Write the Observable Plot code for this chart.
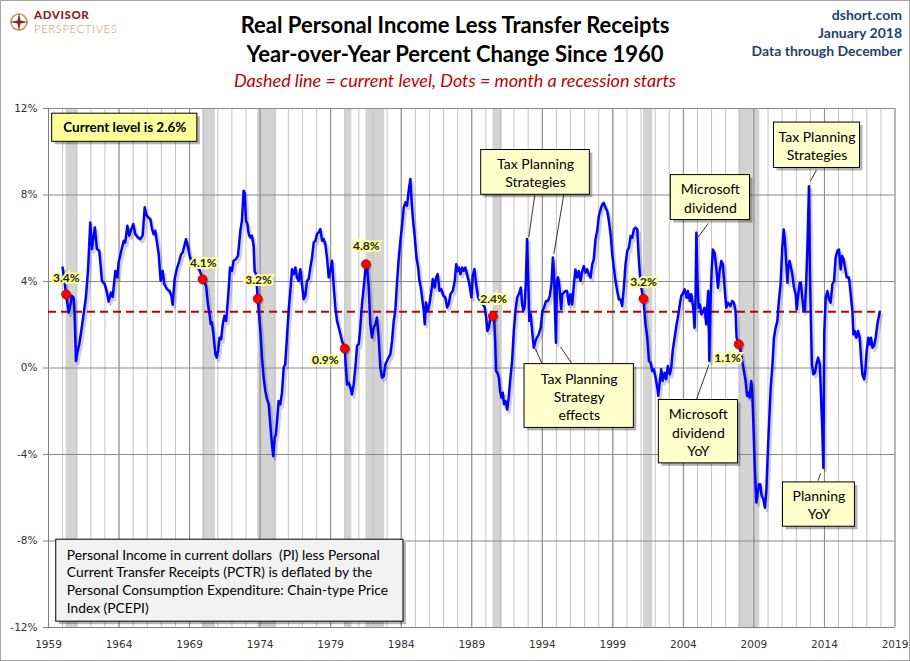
<!DOCTYPE html>
<html><head><meta charset="utf-8">
<script src="https://cdn.jsdelivr.net/npm/d3@7"></script>
<script src="https://cdn.jsdelivr.net/npm/@observablehq/plot@0.6"></script>
<style>
html,body{margin:0;padding:0;background:#fff;}
#chart{position:relative;width:910px;height:661px;overflow:hidden;background:#fff;}
#frame{position:absolute;left:0;top:0;width:908px;height:659px;border:1px solid #a6a6a6;pointer-events:none;}
.h{position:absolute;white-space:nowrap;line-height:1;}
.t{left:455px;transform:translateX(-50%);font-family:Lato;font-weight:bold;font-size:22px;color:#000;}
.sub{left:455px;transform:translateX(-50%);font-family:Lato;font-style:italic;font-size:18px;color:#c00000;}
.r{right:8px;text-align:right;font-family:Lato;font-weight:bold;font-size:14px;color:#1f3f73;}
#logo{left:9px;top:9px;width:130px;height:28px;}
.adv{position:absolute;left:25px;top:0px;font-family:Lato;font-weight:900;font-size:11.5px;line-height:1;color:#8c2424;letter-spacing:0.6px;}
.per{position:absolute;left:25px;top:14px;font-family:Lato;font-weight:300;font-size:11.5px;line-height:1;color:#c29a5b;letter-spacing:0.5px;}
</style></head><body>
<div id="chart">
  <div id="plot"></div>
  <div id="logo" class="h">
    <svg width="20" height="20" viewBox="0 0 20 20" style="position:absolute;left:0;top:3px">
      <circle cx="10" cy="10" r="8" fill="none" stroke="#c29a5b" stroke-width="1.6"/>
      <polygon points="10,1 11.5,8.5 19,10 11.5,11.5 10,19 8.5,11.5 1,10 8.5,8.5" fill="#8c2424"/>
    </svg>
    <div class="adv">ADVISOR</div>
    <div class="per">PERSPECTIVES</div>
  </div>
  <div class="h t" style="top:14px">Real Personal Income Less Transfer Receipts</div>
  <div class="h t" style="top:43px">Year-over-Year Percent Change Since 1960</div>
  <div class="h sub" style="top:70.5px">Dashed line = current level, Dots = month a recession starts</div>
  <div class="h r" style="top:7.5px">dshort.com</div>
  <div class="h r" style="top:25.5px">January 2018</div>
  <div class="h r" style="top:43.5px">Data through December</div>
  <div id="frame"></div>
</div>
<script>
// ---- data ----
const dates = [
1960.00,1960.25,1960.43,1960.54,1960.66,1960.78,1960.85,1960.95,1961.04,1961.18,1961.32,1961.49,1961.65,1961.80,1961.96,
1962.08,1962.15,1962.29,1962.43,1962.60,1962.79,1962.98,1963.14,1963.26,1963.43,1963.55,1963.74,1963.88,1963.97,
1964.16,1964.33,1964.44,1964.59,1964.73,1964.87,1965.01,1965.15,1965.34,1965.51,1965.67,1965.82,1965.91,
1966.05,1966.22,1966.34,1966.45,1966.57,1966.69,1966.81,1966.95,1967.09,1967.21,1967.40,1967.57,1967.71,1967.80,1967.94,
1968.10,1968.25,1968.40,1968.51,1968.75,1968.89,1969.03,1969.17,1969.36,1969.53,1969.69,1969.92,
1970.00,1970.17,1970.30,1970.40,1970.50,1970.59,1970.69,1970.83,1970.92,1971.02,1971.12,1971.24,1971.35,1971.47,1971.59,1971.73,1971.87,
1972.00,1972.12,1972.29,1972.43,1972.60,1972.71,1972.83,1972.90,1973.00,1973.10,1973.19,1973.30,1973.42,1973.54,1973.61,1973.71,1973.83,
1973.90,1974.02,1974.13,1974.25,1974.37,1974.49,1974.61,1974.72,1974.84,1974.93,1975.03,1975.12,1975.22,1975.31,1975.43,1975.55,1975.67,1975.78,1975.90,
1976.02,1976.14,1976.26,1976.38,1976.50,1976.61,1976.73,1976.85,1976.97,1977.08,1977.20,1977.32,1977.44,1977.56,1977.68,1977.80,1977.92,
1978.03,1978.15,1978.27,1978.39,1978.51,1978.62,1978.74,1978.86,1978.98,1979.10,1979.22,1979.33,1979.45,1979.57,1979.69,1979.80,1980.00,
1980.06,1980.16,1980.28,1980.40,1980.51,1980.63,1980.75,1980.87,1980.99,1981.10,1981.22,1981.34,1981.50,1981.58,1981.70,1981.81,1981.93,
1982.05,1982.17,1982.28,1982.40,1982.52,1982.64,1982.76,1982.88,1982.99,1983.11,1983.23,1983.35,1983.47,1983.58,1983.71,1983.83,1983.94,
1984.06,1984.18,1984.30,1984.41,1984.53,1984.65,1984.72,1984.82,1984.96,1985.08,1985.20,1985.29,1985.39,1985.48,1985.60,1985.67,1985.76,1985.88,
1986.00,1986.14,1986.24,1986.38,1986.47,1986.59,1986.71,1986.85,1986.99,1987.13,1987.25,1987.37,1987.49,1987.66,1987.80,1987.90,1987.99,
1988.09,1988.20,1988.32,1988.43,1988.55,1988.69,1988.83,1988.98,1989.07,1989.19,1989.31,1989.45,1989.61,1989.78,1989.92,
1990.02,1990.11,1990.21,1990.32,1990.50,1990.58,1990.66,1990.72,1990.82,1990.92,1991.01,1991.10,1991.20,1991.29,1991.39,1991.51,1991.62,1991.74,1991.86,1991.98,
1992.10,1992.22,1992.33,1992.42,1992.48,1992.57,1992.65,1992.74,1992.83,1992.92,1993.00,1993.08,1993.18,1993.30,1993.40,1993.52,1993.63,1993.75,1993.89,
1994.01,1994.13,1994.27,1994.41,1994.53,1994.65,1994.75,1994.83,1994.90,1994.97,1995.04,1995.12,1995.22,1995.34,1995.41,1995.53,1995.66,1995.76,1995.88,
1996.00,1996.12,1996.24,1996.35,1996.47,1996.59,1996.71,1996.83,1996.94,1997.06,1997.18,1997.30,1997.42,1997.54,1997.65,1997.77,1997.89,
1998.01,1998.13,1998.25,1998.36,1998.48,1998.60,1998.72,1998.84,1998.96,1999.07,1999.19,1999.31,1999.43,1999.55,1999.66,1999.78,1999.90,
2000.02,2000.14,2000.26,2000.37,2000.49,2000.61,2000.73,2000.85,2000.97,2001.17,2001.22,2001.32,2001.44,2001.56,2001.68,2001.79,2001.91,
2002.03,2002.15,2002.22,2002.31,2002.43,2002.53,2002.67,2002.78,2002.90,2003.04,2003.14,2003.24,2003.38,2003.52,2003.61,2003.75,2003.85,2003.99,
2004.09,2004.23,2004.32,2004.46,2004.56,2004.70,2004.79,2004.86,2004.92,2005.00,2005.08,2005.17,2005.27,2005.41,2005.50,2005.62,2005.69,2005.76,2005.84,2005.92,
2006.00,2006.09,2006.21,2006.33,2006.45,2006.57,2006.69,2006.80,2006.92,2007.04,2007.16,2007.34,2007.46,2007.58,2007.70,2007.77,2007.92,
2008.06,2008.17,2008.29,2008.41,2008.51,2008.60,2008.70,2008.81,2008.88,2008.98,2009.07,2009.17,2009.26,2009.36,2009.45,2009.55,2009.67,2009.78,2009.88,2009.97,
2010.07,2010.19,2010.30,2010.42,2010.54,2010.66,2010.77,2010.89,2011.01,2011.11,2011.20,2011.30,2011.37,2011.44,2011.53,2011.63,2011.72,2011.84,2011.96,
2012.03,2012.12,2012.24,2012.33,2012.43,2012.52,2012.62,2012.71,2012.81,2012.90,2012.97,2013.04,2013.11,2013.21,2013.33,2013.43,2013.55,2013.67,2013.76,2013.85,2013.92,2013.99,
2014.09,2014.21,2014.32,2014.44,2014.56,2014.68,2014.79,2014.91,2015.03,2015.15,2015.25,2015.36,2015.46,2015.58,2015.74,2015.86,2015.98,
2016.05,2016.14,2016.26,2016.38,2016.50,2016.59,2016.69,2016.81,2016.90,2016.99,2017.11,2017.21,2017.30,2017.40,2017.52,2017.63,2017.75,2017.92
];
const values = [
4.65,3.40,2.56,2.87,3.34,3.26,2.49,0.32,0.71,1.10,1.70,2.50,3.26,4.50,6.73,
5.50,5.88,6.50,5.50,5.42,4.03,3.88,3.49,3.07,3.49,3.29,4.49,4.19,4.88,
5.42,5.88,5.80,6.58,6.12,6.42,6.66,6.19,6.04,5.96,6.12,7.43,7.12,
6.97,6.89,6.42,6.19,6.35,5.80,5.27,4.03,4.49,3.88,3.64,3.57,3.34,2.92,4.11,
4.60,4.90,5.27,5.34,5.96,5.58,5.11,4.96,4.80,4.65,4.57,4.10,
4.03,3.80,2.95,2.56,2.02,2.10,1.56,0.63,0.48,0.79,1.40,1.33,2.02,2.41,2.18,3.26,4.65,
4.49,4.96,5.03,5.19,6.35,6.81,8.20,8.12,6.81,6.66,6.19,6.04,6.12,5.65,4.49,4.34,3.20,
2.64,1.71,0.48,-0.45,-1.07,-1.45,-1.68,-2.61,-3.54,-4.08,-3.23,-3.07,-2.30,-1.53,-1.68,-1.14,0.02,0.17,1.41,
2.64,3.57,4.57,4.34,4.65,4.19,4.03,4.57,3.88,3.18,3.34,4.03,4.11,4.65,5.11,5.81,5.88,
6.19,6.27,6.42,5.88,5.96,5.73,5.11,4.19,4.49,4.96,3.72,2.80,2.18,1.87,1.56,1.25,0.90,
0.17,-0.76,-0.68,-0.91,-1.22,-0.76,0.02,1.02,1.10,1.87,2.95,3.72,4.80,4.73,3.72,2.02,1.41,
1.87,2.02,2.33,1.41,0.02,-0.45,-0.37,0.17,0.32,0.48,0.63,1.25,2.18,2.64,4.03,5.11,5.88,
6.58,7.43,7.66,7.50,8.20,8.74,7.89,6.97,6.04,5.11,4.65,4.03,3.72,3.26,2.64,2.02,3.03,2.64,
2.95,3.57,4.11,3.72,4.19,4.34,3.57,3.64,3.34,3.26,2.80,2.95,3.41,3.57,4.03,4.80,4.49,
4.65,4.34,4.65,4.49,4.65,4.26,3.88,3.26,4.26,4.57,3.88,3.26,3.10,2.95,2.80,
2.33,1.71,1.87,2.30,2.40,2.33,1.25,-0.14,-0.22,-0.45,-1.07,-1.37,-1.14,-1.68,-1.53,-1.92,-1.37,-0.45,0.32,1.71,
2.64,3.26,3.41,3.57,3.72,2.95,2.64,2.80,3.88,5.96,4.19,2.18,2.49,1.56,0.94,1.25,1.41,1.56,1.87,
2.64,2.80,3.10,3.10,3.34,3.88,5.11,4.49,2.64,1.17,4.03,4.19,3.72,2.72,3.41,3.49,3.57,3.56,2.94,
3.41,2.94,3.87,4.56,4.18,4.48,4.02,4.48,4.71,4.41,4.56,4.33,4.18,4.79,5.02,5.95,6.33,
7.03,7.33,7.57,7.64,7.41,7.26,6.80,6.18,5.25,4.64,4.02,3.56,3.17,3.17,2.87,3.71,4.79,
5.41,5.56,6.10,6.02,6.41,6.49,6.41,4.95,3.87,3.20,2.79,2.02,1.40,0.32,0.25,-0.14,-0.06,
-0.45,-0.91,-1.29,-0.75,-0.06,-0.60,-0.22,-0.52,0.09,-0.29,0.02,0.79,1.40,2.02,2.33,2.94,3.33,3.48,
3.64,3.25,3.56,3.10,3.41,2.79,1.86,3.10,6.26,4.02,2.79,2.94,2.48,2.63,2.79,2.02,2.79,3.56,0.32,2.94,
4.48,5.48,5.33,4.64,3.71,4.48,4.95,4.79,3.71,2.79,3.02,2.87,3.10,3.02,2.63,1.40,1.10,
0.79,0.32,-0.14,-0.60,-1.29,-1.14,-1.37,-0.60,-1.06,-2.90,-4.76,-6.22,-5.84,-5.37,-5.37,-5.91,-6.07,-6.46,-5.68,-4.14,
-2.60,-0.91,0.02,1.40,1.86,2.17,3.10,3.87,5.56,6.41,5.87,4.79,3.94,4.64,4.95,4.64,4.33,3.71,3.41,
2.71,3.25,3.94,3.94,3.25,2.63,2.71,4.02,6.02,8.41,4.48,2.17,0.17,-0.29,-0.22,0.17,0.48,0.17,-1.37,-2.91,-4.61,1.71,
3.25,3.56,3.17,3.02,3.87,4.02,5.10,5.41,5.48,4.56,5.18,5.02,4.64,4.18,4.18,3.41,2.63,
1.56,1.71,1.40,1.71,1.40,0.48,-0.29,-0.52,-0.14,0.79,1.40,1.09,1.40,0.94,1.02,1.40,2.02,2.60
];
const currentLevel = 2.6;
const recessionStarts = [1960.25,1969.92,1973.83,1980.00,1981.50,1990.50,2001.17,2007.92];
const recessionEnds   = [1961.08,1970.83,1975.17,1980.50,1982.83,1991.17,2001.83,2009.42];
const recessionStartValues = [3.4,4.1,3.2,0.9,4.8,2.4,3.2,1.1];
const xTicks = d3.range(1959, 2020, 5);
const xMinor = d3.range(1959, 2020, 1);
const yTicks = [-12,-8,-4,0,4,8,12];
const xDomain = [1959, 2019];
const yDomain = [-12, 12];

// ---- annotations (placement in data units) ----
const dotLabelPos = [
  [1960.26,4.16],[1969.97,4.85],[1973.89,4.04],[1978.62,0.38],
  [1981.53,5.62],[1990.54,3.19],[2001.18,3.99],[2007.13,0.44]
];
const noteBoxes = [
  {label:"Tax Planning\nStrategies", x1:1989.67, x2:1997.37, y1:10.08, y2:8.01},
  {label:"Tax Planning\nStrategy\neffects", x1:1992.74, x2:2000.49, y1:0.18, y2:-2.77},
  {label:"Microsoft\ndividend", x1:2003.11, x2:2008.72, y1:8.92, y2:6.84},
  {label:"Microsoft\ndividend\nYoY", x1:2002.26, x2:2007.87, y1:-1.48, y2:-4.41},
  {label:"Tax Planning\nStrategies", x1:2010.42, x2:2016.52, y1:11.35, y2:9.25},
  {label:"Planning\nYoY", x1:2011.06, x2:2016.16, y1:-5.29, y2:-7.34}
];
const leaders = [
  {x1:1993.47,y1:8.01,x2:1993.04,y2:6.04},{x1:1995.52,y1:8.01,x2:1994.82,y2:5.27},
  {x1:1993.52,y1:0.89,x2:1993.99,y2:0.18},{x1:1995.29,y1:0.98,x2:1996.12,y2:0.18},
  {x1:2005.77,y1:6.69,x2:2005.03,y2:6.04},
  {x1:2005.81,y1:0.15,x2:2004.91,y2:-1.48},
  {x1:2013.43,y1:9.15,x2:2013.02,y2:8.66},
  {x1:2013.73,y1:-4.87,x2:2013.54,y2:-5.21}
];
const currentBox = [{label:`Current level is ${currentLevel}%`, x1:1959.26, x2:1969.55, y1:11.76, y2:10.46}];
const infoBox = [{label:"Personal Income in current dollars  (PI) less Personal\nCurrent Transfer Receipts (PCTR) is deflated by the\nPersonal Consumption Expenditure: Chain-type Price\nIndex (PCEPI)", x1:1959.55, x2:1984.16, y1:-7.94, y2:-11.73, tx:1960.3}];

// ---- build tables ----
const series = dates.map((d,i) => ({date:d, value:values[i]}));
const recessions = recessionStarts.map((s,i) => ({start:s, end:recessionEnds[i]}));
const dots = recessionStarts.map((s,i) => ({date:s, value:recessionStartValues[i]}));
const dotLabels = dots.map((d,i) => ({x:dotLabelPos[i][0], y:dotLabelPos[i][1], text:d.value.toFixed(1)+"%"}));
const cx = d => (d.x1+d.x2)/2, cy = d => (d.y1+d.y2)/2;
const F = "Lato";

const chart = Plot.plot({
  width: 910, height: 661,
  marginLeft: 48, marginRight: 15.5, marginTop: 108, marginBottom: 34,
  style: {fontFamily: "DejaVu Sans", fontSize: "10.5px", color: "#333", background: "transparent"},
  x: {type: "linear", domain: xDomain},
  y: {domain: yDomain},
  marks: [
    Plot.rect(recessions, {x1:"start", x2:"end", y1: yDomain[0], y2: yDomain[1], fill:"#d3d3d3"}),
    Plot.gridX(xMinor, {stroke:"#c4c4c4", strokeOpacity:1, strokeWidth:1}),
    Plot.gridX(xTicks, {stroke:"#8a8a8a", strokeOpacity:1, strokeWidth:1}),
    Plot.gridY(yTicks, {stroke:"#8a8a8a", strokeOpacity:1, strokeWidth:1}),
    Plot.ruleX([xDomain[0]], {stroke:"#808080"}),
    Plot.ruleY([yDomain[0]], {stroke:"#808080"}),
    Plot.axisY({ticks: yTicks, tickFormat: d => d + "%", tickSize: 5, tickPadding: 6, stroke:"#808080", label: null}),
    Plot.axisX({ticks: xTicks, tickFormat: d => String(d), tickSize: 0, tickPadding: 13, label: null}),
    Plot.ruleY([currentLevel], {x1: xDomain[0], x2: dates[dates.length-1], stroke:"#c00000", strokeWidth:2, strokeDasharray:"8,5"}),
    Plot.line(series, {x:"date", y:"value", stroke:"#000", strokeOpacity:0.18, strokeWidth:3, dx:2, dy:3, curve:"linear"}),
    Plot.line(series, {x:"date", y:"value", stroke:"#0000ff", strokeWidth:2.5, strokeLinejoin:"round"}),
    Plot.dot(dots, {x:"date", y:"value", r:4.5, fill:"#000", fillOpacity:0.25, dx:1.5, dy:1.5}),
    Plot.dot(dots, {x:"date", y:"value", r:4.5, fill:"#ff0000", stroke:"#b00000", strokeWidth:0.8}),
    Plot.text(dotLabels, {x:"x", y:"y", text:"text", fontFamily:F, fontWeight:"bold", fontSize:12, fill:"#222", stroke:"#ffff99", strokeWidth:4, strokeLinejoin:"miter"}),
    Plot.link(leaders, {x1:"x1", y1:"y1", x2:"x2", y2:"y2", stroke:"#000", strokeWidth:0.8}),
    Plot.rect([...noteBoxes, ...currentBox, ...infoBox], {x1:"x1", x2:"x2", y1:"y1", y2:"y2", fill:"#000", fillOpacity:0.3, dx:3, dy:3}),
    Plot.rect(noteBoxes, {x1:"x1", x2:"x2", y1:"y1", y2:"y2", fill:"#ffffcc", stroke:"#000", strokeWidth:1}),
    Plot.rect(currentBox, {x1:"x1", x2:"x2", y1:"y1", y2:"y2", fill:"#ffff99", stroke:"#000", strokeWidth:1}),
    Plot.rect(infoBox, {x1:"x1", x2:"x2", y1:"y1", y2:"y2", fill:"#f2f2f2", stroke:"#000", strokeWidth:1}),
    Plot.text(noteBoxes, {x:cx, y:cy, text:"label", fontFamily:F, fontSize:14, lineHeight:1.3, fill:"#000"}),
    Plot.text(currentBox, {x:cx, y:cy, text:"label", fontFamily:F, fontWeight:"bold", fontSize:13.5, fill:"#000"}),
    Plot.text(infoBox, {x:"tx", y:cy, text:"label", fontFamily:F, fontSize:13.8, lineHeight:1.3, textAnchor:"start", fill:"#000"})
  ]
});
document.getElementById("plot").appendChild(chart);
</script>
</body></html>
